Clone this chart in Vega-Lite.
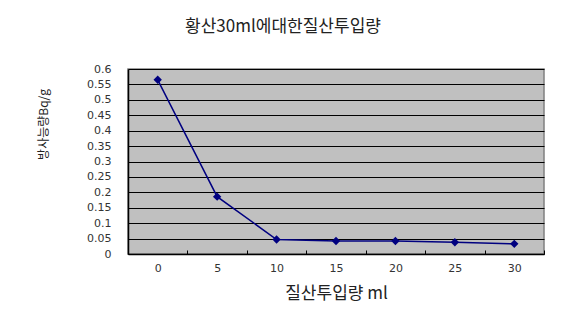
{
  "$schema": "https://vega.github.io/schema/vega-lite/v6.json",
  "autosize": "none",
  "width": 416,
  "height": 185,
  "padding": {"left": 128, "top": 69, "right": 18, "bottom": 75},
  "background": "white",
  "title": {
    "text": "황산30ml에대한질산투입량",
    "font": "Noto Sans CJK KR",
    "fontSize": 17,
    "fontWeight": "normal",
    "color": "#222222",
    "anchor": "middle",
    "dx": -53,
    "offset": 27
  },
  "data": {
    "values": [
      {"amount": "0", "radio": 0.565},
      {"amount": "5", "radio": 0.186},
      {"amount": "10", "radio": 0.047},
      {"amount": "15", "radio": 0.042},
      {"amount": "20", "radio": 0.042},
      {"amount": "25", "radio": 0.038},
      {"amount": "30", "radio": 0.033}
    ]
  },
  "encoding": {
    "x": {
      "field": "amount",
      "type": "ordinal",
      "sort": null,
      "scale": {"paddingInner": 0, "paddingOuter": 0},
      "axis": {
        "title": "질산투입량 ml",
        "titleFont": "Noto Sans CJK KR",
        "titleFontSize": 17,
        "titleFontWeight": "normal",
        "titleColor": "#222222",
        "titlePadding": 12,
        "labelAngle": 0,
        "labelFont": "DejaVu Sans",
        "labelFontSize": 11,
        "labelColor": "#333333",
        "labelPadding": 12,
        "tickBand": "extent",
        "tickSize": -4,
        "tickColor": "black",
        "domainColor": "black",
        "domainWidth": 1.5,
        "grid": false
      }
    },
    "y": {
      "field": "radio",
      "type": "quantitative",
      "scale": {"domain": [0, 0.6], "nice": false},
      "axis": {
        "title": "방사능량Bq/g",
        "titleFont": "Noto Sans CJK KR",
        "titleFontSize": 12,
        "titleFontWeight": "normal",
        "titleColor": "#222222",
        "titleX": -78,
        "titleY": 55,
        "values": [0, 0.05, 0.1, 0.15, 0.2, 0.25, 0.3, 0.35, 0.4, 0.45, 0.5, 0.55, 0.6],
        "format": ".2~f",
        "labelFont": "DejaVu Sans",
        "labelFontSize": 11,
        "labelColor": "#333333",
        "labelPadding": 17,
        "ticks": false,
        "domainColor": "black",
        "domainWidth": 1.5,
        "grid": true,
        "gridColor": "black",
        "gridWidth": 1,
        "gridOpacity": 1
      }
    }
  },
  "layer": [
    {"mark": {"type": "line", "color": "#000080", "strokeWidth": 1.5}},
    {"mark": {"type": "point", "shape": "diamond", "filled": true, "color": "#000080", "size": 70, "opacity": 1}}
  ],
  "config": {
    "view": {"fill": "#C0C0C0", "stroke": "#808080", "strokeWidth": 1.5}
  }
}
